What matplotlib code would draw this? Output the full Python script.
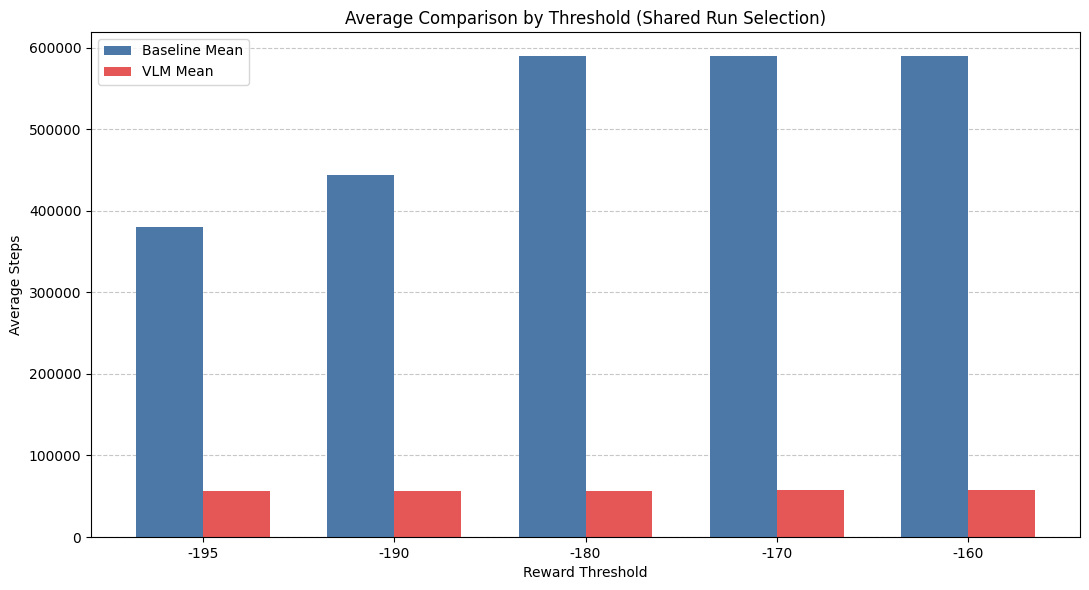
import numpy as np
import matplotlib.pyplot as plt

thresholds = ['-195', '-190', '-180', '-170', '-160']
baseline_mean = [380000, 444000, 590000, 590000, 590000]
vlm_mean = [56400, 56400, 56400, 57700, 57700]

if __name__ == '__main__':
    x = np.arange(len(thresholds))
    width = 0.35

    fig, ax = plt.subplots(figsize=(10.89, 5.9), dpi=100)
    ax.bar(x - width / 2, baseline_mean, width, label='Baseline Mean', color='#4c78a8')
    ax.bar(x + width / 2, vlm_mean, width, label='VLM Mean', color='#e45756')

    ax.set_xticks(x)
    ax.set_xticklabels(thresholds)
    ax.set_xlabel('Reward Threshold')
    ax.set_ylabel('Average Steps')
    ax.set_title('Average Comparison by Threshold (Shared Run Selection)')
    ax.legend(loc='upper left')
    ax.grid(axis='y', linestyle='--', alpha=0.7)
    ax.set_axisbelow(True)

    fig.subplots_adjust(left=0.0836, right=0.9917, top=0.9458, bottom=0.0898)
    plt.savefig('out.png')
